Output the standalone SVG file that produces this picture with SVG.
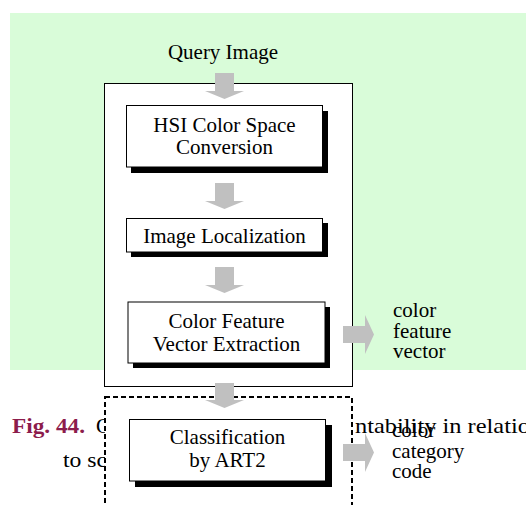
<svg xmlns="http://www.w3.org/2000/svg" width="526" height="505" viewBox="0 0 526 505">
<style>
  .t { font-family: "Liberation Serif", "Times New Roman", serif; font-size: 21px; fill: #000; }
  .c { text-anchor: middle; }
  .cap { font-family: "Liberation Serif", "Times New Roman", serif; font-size: 21px; fill: #000; }
  .capb { font-family: "Liberation Serif", "Times New Roman", serif; font-size: 21px; font-weight: bold; fill: #8c1c4c; }
  .box { fill: #fff; stroke: #000; stroke-width: 1; }
  .shadow { fill: #000; }
  .arrow { fill: #c0c0c0; }
</style>
<rect x="0" y="0" width="526" height="505" fill="#fff"/>
<rect id="bg" x="10" y="13" width="516" height="357" fill="#d9fcd9"/>

<!-- caption fragments (partially covered) -->
<g id="caption">
  <text class="capb" x="12" y="433" textLength="73" lengthAdjust="spacingAndGlyphs">Fig. 44.</text>
  <text class="cap" x="96" y="433">C</text>
  <text class="cap" x="63" y="467" textLength="44" lengthAdjust="spacingAndGlyphs">to sc</text>
  <text class="cap" x="355" y="433" textLength="175" lengthAdjust="spacingAndGlyphs">ntability in relatio</text>
</g>

<g id="outer-box">
  <rect class="box" x="104.5" y="83.5" width="248" height="303"/>
</g>
<g id="dashed-box">
  <rect x="105" y="397" width="247" height="130" fill="#fff" stroke="#000" stroke-width="2" stroke-dasharray="5 3"/>
</g>

<g id="query-image">
  <text class="t c" x="223" y="59">Query Image</text>
</g>

<g id="hsi">
  <rect class="shadow" x="131" y="111" width="197" height="62"/>
  <rect class="box" x="126.5" y="105.5" width="196" height="61.5"/>
  <text class="t c" x="224.5" y="131.5">HSI Color Space</text>
  <text class="t c" x="224.5" y="154">Conversion</text>
</g>

<g id="localization">
  <rect class="shadow" x="131" y="223" width="197" height="34"/>
  <rect class="box" x="126.5" y="218.5" width="196" height="33.5"/>
  <text class="t c" x="224.5" y="242.5">Image Localization</text>
</g>

<g id="feature">
  <rect class="shadow" x="133" y="307" width="197" height="61"/>
  <rect class="box" x="128" y="302" width="197" height="61"/>
  <text class="t c" x="226.5" y="327.5">Color Feature</text>
  <text class="t c" x="226.5" y="350.5">Vector Extraction</text>
</g>

<g id="classification">
  <rect class="shadow" x="135" y="425" width="197" height="62"/>
  <rect class="box" x="129.5" y="419.5" width="196" height="61.5"/>
  <text class="t c" x="227.5" y="443.5">Classification</text>
  <text class="t c" x="227.5" y="467">by ART2</text>
</g>

<g id="connectors">
  <polygon class="arrow" points="215,73 234,73 234,91 244,91 224.5,99 205,91 215,91"/>
  <polygon class="arrow" points="215,183 234,183 234,201 244,201 224.5,209 205,201 215,201"/>
  <polygon class="arrow" points="215,267 234,267 234,285 244,285 224.5,293 205,285 215,285"/>
  <polygon class="arrow" points="215,383 234,383 234,400 244,400 224.5,408 205,400 215,400"/>
  <polygon class="arrow" points="343,326 365,326 365,315 374,334.5 365,354 365,343 343,343"/>
  <polygon class="arrow" points="343,444 365,444 365,433 374,452.5 365,472 365,461 343,461"/>
</g>

<g id="label-feature-vector">
  <text class="t" x="393" y="317">color</text>
  <text class="t" x="393" y="337.5">feature</text>
  <text class="t" x="393" y="358">vector</text>
</g>
<g id="label-category-code">
  <text class="t" x="392" y="437">color</text>
  <text class="t" x="392" y="457.5">category</text>
  <text class="t" x="392" y="478">code</text>
</g>
</svg>
